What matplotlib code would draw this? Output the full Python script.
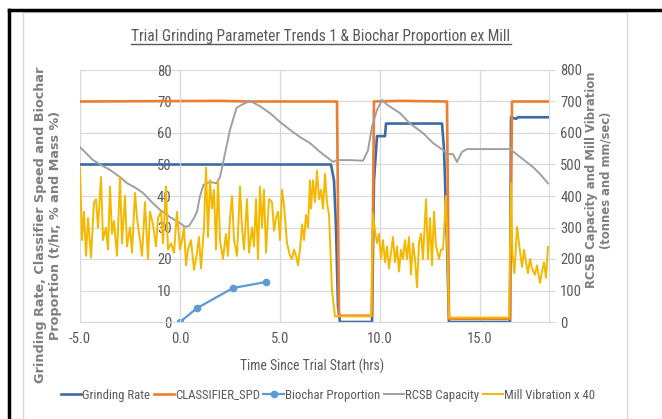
import numpy as np
import matplotlib.pyplot as plt
from matplotlib.lines import Line2D
from matplotlib.patches import Rectangle

# ---- data ----
grind_t = [-5, 7.55, 7.7, 7.8, 7.9, 8.0, 9.6, 9.7, 9.85, 10.25, 10.3, 13.1, 13.2, 13.35, 13.45, 16.5, 16.55, 16.8, 16.9, 18.45]
grind_v = [50, 50, 45, 30, 5, 0, 0, 45, 59, 59, 63, 63, 55, 25, 0, 0, 65, 64.5, 65, 65]

clf_t = [-5, 2.0, 3.5, 7.85, 7.95, 9.6, 9.7, 11.0, 13.35, 13.45, 16.5, 16.6, 18.45]
clf_v = [70, 70.2, 70, 70, 2, 2, 70, 70.2, 70, 1, 1, 70, 70]

bio_t = [0, 0.85, 2.65, 4.3]
bio_v = [0, 4.4, 10.8, 12.7]

rcsb_t = [-5, -4.6, -4.35, -4.0, -3.5, -3.0, -2.65, -2.2, -1.85, -1.4, -1.0, -0.5, 0.0, 0.25, 0.45,
          0.7, 0.85, 1.0, 1.17, 1.5, 1.83, 2.0, 2.5, 2.83, 3.1, 3.5, 4.0, 4.5, 5.0, 5.5, 6.0, 6.5,
          7.0, 7.33, 7.65, 7.83, 8.5, 9.15, 9.4, 9.6, 9.85, 10.1, 10.35, 11.0, 11.5, 12.15, 12.65,
          13.15, 13.35, 13.65, 13.85, 14.1, 14.35, 16.5, 17.0, 17.65, 18.0, 18.4]
rcsb_v = [555, 530, 514, 500, 483, 460, 441, 425, 410, 380, 356, 333, 314, 302, 305,
          330, 350, 400, 435, 445, 440, 460, 610, 680, 690, 702, 685, 663, 635, 610, 587, 568,
          540, 524, 508, 514, 514, 512, 545, 620, 673, 705, 690, 663, 630, 600, 568,
          546, 533, 533, 508, 540, 549, 549, 524, 492, 470, 440]

vib_t = [-5.0, -4.9, -4.8, -4.7, -4.6, -4.45, -4.3, -4.2, -4.1, -3.95, -3.85, -3.7, -3.6, -3.5,
         -3.4, -3.3, -3.15, -3.0, -2.9, -2.75, -2.65, -2.5, -2.4, -2.25, -2.15, -2.0, -1.9, -1.75,
         -1.6, -1.5, -1.35, -1.2, -1.1, -0.95, -0.85, -0.7, -0.6, -0.45, -0.3, -0.15, 0.0, 0.1,
         0.2, 0.3, 0.4, 0.55, 0.7, 0.85, 0.95, 1.05, 1.2, 1.3, 1.4, 1.5, 1.6, 1.7, 1.8, 1.9,
         2.0, 2.15, 2.3, 2.4, 2.5, 2.6, 2.7, 2.85, 3.0, 3.1, 3.2, 3.35, 3.45, 3.6, 3.7, 3.8,
         3.9, 4.0, 4.1, 4.2, 4.3, 4.45, 4.6, 4.7, 4.8, 4.9, 5.0, 5.1, 5.2, 5.35, 5.5, 5.6, 5.7,
         5.8, 5.9, 6.0, 6.1, 6.2, 6.3, 6.4, 6.5, 6.55, 6.65, 6.75, 6.85, 6.95, 7.05, 7.15, 7.25,
         7.35, 7.45, 7.6, 7.75, 9.55, 9.65, 9.75, 9.85, 9.95, 10.05, 10.15, 10.25, 10.35, 10.45,
         10.55, 10.65, 10.75, 10.85, 10.95, 11.05, 11.15, 11.25, 11.35, 11.45, 11.55, 11.65,
         11.75, 11.85, 11.95, 12.05, 12.15, 12.3, 12.4, 12.5, 12.6, 12.7, 12.8, 12.95, 13.05,
         13.15, 13.3, 13.45, 16.45, 16.55, 16.62, 16.72, 16.85, 16.95, 17.1, 17.2, 17.3, 17.4,
         17.5, 17.6, 17.75, 17.85, 18.0, 18.1, 18.2, 18.3, 18.4]
vib_v = [490, 260, 350, 210, 330, 205, 380, 390, 300, 460, 260, 300, 230, 430,
         280, 320, 210, 460, 250, 400, 240, 300, 220, 410, 330, 260, 210, 380,
         200, 350, 310, 240, 330, 350, 250, 430, 230, 250, 220, 350, 230, 260,
         300, 180, 230, 260, 165, 220, 270, 170, 300, 490, 270, 450, 360, 420, 230, 450,
         260, 200, 280, 210, 330, 400, 260, 210, 430, 300, 230, 390, 220, 300, 240, 390,
         200, 430, 300, 420, 220, 390, 380, 290, 330, 350, 260, 420, 370, 250, 210, 200, 230,
         210, 180, 230, 310, 260, 340, 300, 450, 360, 450, 380, 480, 390, 420, 360, 470,
         380, 340, 100, 18, 18, 345, 290, 250, 280, 200, 260, 190, 240, 170,
         220, 270, 190, 240, 160, 230, 200, 260, 200, 270, 150, 250,
         200, 110, 250, 280, 200, 390, 200, 330, 180, 350, 240, 200, 230,
         230, 400, 14, 14, 441, 219, 155, 302, 250, 175, 229, 190, 155,
         200, 170, 150, 180, 124, 160, 190, 140, 238]

xticks = [-5, 0, 5, 10, 15]
xticklabels = ['-5.0', '0.0', '5.0', '10.0', '15.0']

# ---- figure ----
W, H = 662, 419
fig = plt.figure(figsize=(W / 100, H / 100), dpi=100)
fig.patch.set_facecolor('white')

narrow = ['Liberation Sans Narrow', 'Roboto Condensed', 'Lato', 'DejaVu Sans']
grey_txt = '#595959'
grid_c = '#d9d9d9'

# screenshot frame
fig.add_artist(Rectangle((23 / W, -0.01), (627 - 23) / W, 1 - 12 / H + 0.01, transform=fig.transFigure,
                         facecolor='none', edgecolor='#d9d9d9', lw=1, zorder=-1))
fig.add_artist(Line2D([8.5 / W, 8.5 / W], [0, 1 - 10 / H], transform=fig.transFigure, color='black', lw=2.5))
fig.add_artist(Line2D([8.5 / W, 1], [1 - 10 / H, 1 - 10 / H], transform=fig.transFigure, color='black', lw=2.5))

ax = fig.add_axes([80 / W, 1 - 322 / H, (549 - 80) / W, (322 - 70) / H])
ax.set_facecolor('none')
ax.set_xlim(-5, 18.45)
ax.set_ylim(0, 80)
ax.set_xticks(xticks)
ax.set_xticklabels(xticklabels)
ax.set_yticks(range(0, 81, 10))
ax.grid(True, color=grid_c, lw=0.9)
ax.set_axisbelow(True)
for s in ['top', 'right']:
    ax.spines[s].set_visible(False)
ax.spines['bottom'].set_color(grid_c)
ax.spines['left'].set_position(('data', 0))
ax.spines['left'].set_color(grid_c)
ax.tick_params(length=0, labelcolor=grey_txt, labelsize=10.5)
ax.tick_params(axis='x', pad=7)
ax.tick_params(axis='y', pad=6)
for lab in ax.get_xticklabels() + ax.get_yticklabels():
    lab.set_family(narrow)

l1, = ax.plot(grind_t, grind_v, color='#3e6aa6', lw=1.9, label='Grinding Rate')
l2, = ax.plot(clf_t, clf_v, color='#ed7d31', lw=1.9, label='CLASSIFIER_SPD')
l3, = ax.plot(bio_t, bio_v, color='#5b9bd5', lw=1.6, marker='o', ms=4.5, label='Biochar Proportion')

ax2 = ax.twinx()
ax2.set_ylim(0, 800)
ax2.set_yticks(range(0, 801, 100))
for s in ['top', 'left', 'bottom']:
    ax2.spines[s].set_visible(False)
ax2.spines['right'].set_color(grid_c)
ax2.tick_params(axis='y', length=4, color=grid_c, labelcolor=grey_txt, labelsize=10.5, pad=4)
for lab in ax2.get_yticklabels():
    lab.set_family(narrow)

l4, = ax2.plot(rcsb_t, rcsb_v, color='#a0a0a0', lw=1.4, label='RCSB Capacity')
l5, = ax2.plot(vib_t, vib_v, color='#f5b800', lw=1.4, label='Mill Vibration x 40')

# axis titles
fig.text(48 / W, 1 - 225 / H, 'Grinding Rate, Classifier Speed and Biochar\nProportion (t/hr, % and Mass %)',
         rotation=90, ha='center', va='center', multialignment='center', fontsize=9.2,
         fontweight='bold', color='#7f7f7f', linespacing=1.25)
fig.text(599 / W, 1 - 180 / H, 'RCSB Capacity and Mill Vibration\n(tonnes and mm/sec)',
         rotation=90, ha='center', va='center', multialignment='center', fontsize=8.4,
         fontweight='bold', color='#7f7f7f', linespacing=1.15)
fig.text(312 / W, 1 - 366 / H, 'Time Since Trial Start (hrs)', ha='center', va='center',
         fontsize=9.8, color=grey_txt, family=narrow)

title = fig.text(321 / W, 1 - 37 / H, 'Trial Grinding Parameter Trends 1 & Biochar Proportion ex Mill',
                 ha='center', va='center', fontsize=11.2, color=grey_txt, family=narrow)
fig.canvas.draw()
bb = title.get_window_extent().transformed(fig.transFigure.inverted())
fig.add_artist(Line2D([bb.x0, bb.x1], [bb.y0 + 0.002, bb.y0 + 0.002], transform=fig.transFigure,
                      color=grey_txt, lw=1))

leg = fig.legend(handles=[l1, l2, l3, l4, l5], loc='center', bbox_to_anchor=(328 / W, 1 - 395 / H),
                 ncol=5, frameon=False, handlelength=1.6, handletextpad=0.1,
                 columnspacing=0.25, prop={'family': narrow, 'size': 9.2})
for t in leg.get_texts():
    t.set_color(grey_txt)

fig.savefig('out.png', dpi=100)
